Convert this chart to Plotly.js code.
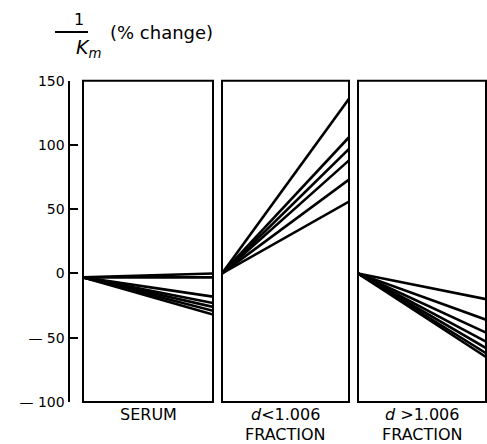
<!DOCTYPE html>
<html>
<head>
<meta charset="utf-8">
<script src="https://cdn.plot.ly/plotly-3.0.1.min.js"></script>
<style>html,body{margin:0;padding:0;background:#fff;}#chart{width:487px;height:444px;}</style>
</head>
<body>
<div id="chart"></div>
<script>
// ---- data ----
var panelNames = ["SERUM", "d<1.006 FRACTION", "d>1.006 FRACTION"];
var serumStart = -3;
var serumEnd = [0, -3, -18, -23, -26, -29, -32];
var lowDensityStart = 0;
var lowDensityEnd = [136, 106, 97, 88, 73, 56];
var highDensityStart = 0;
var highDensityEnd = [-20, -36, -46, -53, -58, -62, -65];
var yTickVals = [150, 100, 50, 0, -50, -100];
var yTickText = ["150", "100", "50", "0", "— 50", "— 100"];

function buildTrace(start, ends, xa) {
  var xs = [], ys = [];
  ends.forEach(function (e) { xs.push(0, 1, null); ys.push(start, e, null); });
  return {x: xs, y: ys, xaxis: xa, yaxis: 'y', type: 'scatter', mode: 'lines',
    line: {color: '#000', width: 2.6}, hoverinfo: 'skip', showlegend: false, connectgaps: false};
}

var traces = [
  buildTrace(serumStart, serumEnd, 'x'),
  buildTrace(lowDensityStart, lowDensityEnd, 'x2'),
  buildTrace(highDensityStart, highDensityEnd, 'x3')
];

var W = 487, H = 444;
var yDom = [1 - 402 / H, 1 - 80.7 / H];
var xDoms = [[83 / W, 213 / W], [222 / W, 349 / W], [358 / W, 486 / W]];

var font = "DejaVu Sans, sans-serif";
var shapes = [], annotations = [];
['x', 'x2', 'x3'].forEach(function (xa) {
  shapes.push({type: 'rect', xref: xa + ' domain', yref: 'y domain', x0: 0, x1: 1, y0: 0, y1: 1,
    line: {color: '#000', width: 2}});
});
// bottom labels
var labelTop = 1 - 414 / H, labelBot = 1 - 434 / H;
var lf = {family: font, size: 16, color: '#000'};
annotations.push({xref: 'x domain', yref: 'paper', x: 0.5, y: labelTop, text: panelNames[0],
  showarrow: false, font: lf, yanchor: 'middle', borderpad: 0});
annotations.push({xref: 'x2 domain', yref: 'paper', x: 0.5, y: labelTop, text: '<i>d</i>&lt;1.006',
  showarrow: false, font: lf, yanchor: 'middle', borderpad: 0});
annotations.push({xref: 'x2 domain', yref: 'paper', x: 0.5, y: labelBot, text: 'FRACTION',
  showarrow: false, font: lf, yanchor: 'middle', borderpad: 0});
annotations.push({xref: 'x3 domain', yref: 'paper', x: 0.5, y: labelTop, text: '<i>d</i> &gt;1.006',
  showarrow: false, font: lf, yanchor: 'middle', borderpad: 0});
annotations.push({xref: 'x3 domain', yref: 'paper', x: 0.5, y: labelBot, text: 'FRACTION',
  showarrow: false, font: lf, yanchor: 'middle', borderpad: 0});
// y-axis title: 1/Km (% change)
annotations.push({xref: 'paper', yref: 'paper', x: 72 / W, y: 1 - 19 / H, text: '1',
  showarrow: false, font: {family: font, size: 16, color: '#000'}, yanchor: 'middle'});
annotations.push({xref: 'paper', yref: 'paper', x: 74 / W, y: 1 - 49 / H, text: '<i>K</i><sub><i>m</i></sub>',
  showarrow: false, font: {family: font, size: 19, color: '#000'}, yanchor: 'middle'});
annotations.push({xref: 'paper', yref: 'paper', x: 108 / W, y: 1 - 32 / H, text: '(% change)',
  showarrow: false, font: {family: font, size: 18, color: '#000'}, xanchor: 'left', yanchor: 'middle'});
shapes.push({type: 'line', xref: 'paper', yref: 'paper', x0: 55 / W, x1: 88 / W, y0: 1 - 32 / H, y1: 1 - 32 / H,
  line: {color: '#000', width: 2}});

var layout = {
  width: W, height: H,
  margin: {l: 0, r: 0, t: 0, b: 0, pad: 0},
  paper_bgcolor: '#fff', plot_bgcolor: '#fff',
  showlegend: false,
  font: {family: font, color: '#000'},
  xaxis: {domain: xDoms[0], range: [0, 1], visible: false, anchor: 'y', fixedrange: true},
  xaxis2: {domain: xDoms[1], range: [0, 1], visible: false, anchor: 'y', fixedrange: true},
  xaxis3: {domain: xDoms[2], range: [0, 1], visible: false, anchor: 'y', fixedrange: true},
  yaxis: {domain: yDom, range: [-100, 150], anchor: 'free', position: 68.5 / W,
    tickmode: 'array', tickvals: yTickVals, ticktext: yTickText,
    ticks: 'inside', ticklen: 8, tickwidth: 2, tickcolor: '#000',
    showline: true, linewidth: 2, linecolor: '#000', showgrid: false, zeroline: false,
    tickfont: {family: font, size: 14, color: '#000'}, fixedrange: true},
  shapes: shapes,
  annotations: annotations
};

Plotly.newPlot('chart', traces, layout, {displayModeBar: false, staticPlot: true});
</script>
</body>
</html>
